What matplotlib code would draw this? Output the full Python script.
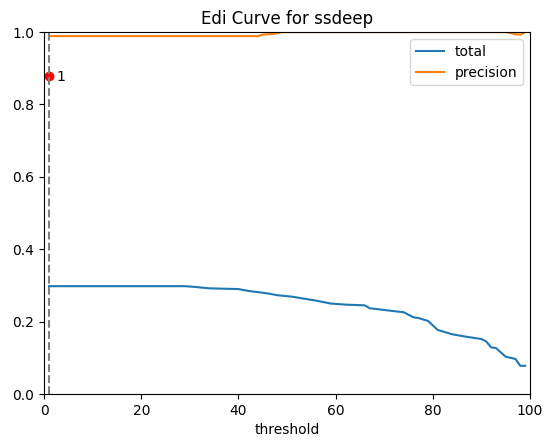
import matplotlib.pyplot as plt

# total curve
total_x = [1, 29, 31, 34, 40, 42, 46, 48, 51, 56, 59, 62, 66, 67, 72, 74, 76, 77, 79, 81, 84, 87, 90,
           91, 92, 93, 95, 97, 98, 99]
total_y = [0.298, 0.298, 0.296, 0.292, 0.290, 0.285, 0.278, 0.273, 0.269, 0.258, 0.250, 0.247, 0.245,
           0.237, 0.229, 0.226, 0.212, 0.210, 0.202, 0.177, 0.165, 0.158, 0.152, 0.145, 0.129, 0.127,
           0.103, 0.097, 0.078, 0.078]

# precision curve
prec_x = [1, 44, 45, 47, 49, 95, 97, 98, 99]
prec_y = [0.989, 0.989, 0.993, 0.995, 1.0, 1.0, 0.994, 0.993, 1.0]

best_x = 1
best_y = 0.88

fig = plt.figure(figsize=(5.45, 4.4), dpi=100)
ax = fig.add_subplot(111)
fig.subplots_adjust(left=0.081, right=0.9725, top=0.927, bottom=0.1045)

ax.plot(total_x, total_y, label="total")
ax.plot(prec_x, prec_y, label="precision")
ax.axvline(best_x, color="gray", linestyle="--")
ax.scatter([best_x], [best_y], color="red")
ax.annotate(str(best_x), (best_x, best_y), xytext=(5, -4), textcoords="offset points")

ax.set_xlim(0, 100)
ax.set_ylim(0, 1)
ax.set_xlabel("threshold")
ax.set_title("Edi Curve for ssdeep")
ax.legend(loc="upper right")

plt.savefig("out.png")
